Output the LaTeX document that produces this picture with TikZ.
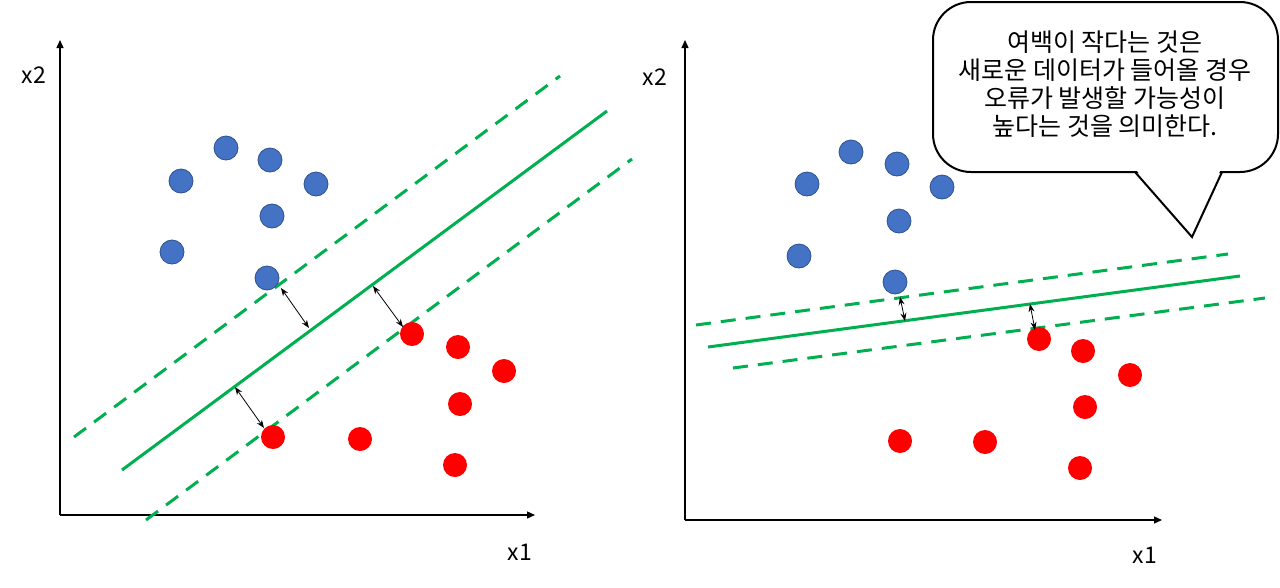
\documentclass[tikz,border=0pt]{standalone}
\usepackage{fontspec}
\setmainfont{Noto Sans CJK KR}
\usetikzlibrary{arrows.meta}
\definecolor{svmgreen}{HTML}{00B050}
\definecolor{bluefill}{HTML}{4472C4}
\definecolor{blueedge}{HTML}{2F528F}
\definecolor{redpt}{HTML}{FF0000}
\begin{document}
\begin{tikzpicture}[x=1pt,y=-1pt,
  axis/.style={line width=1.3pt,-{Triangle[length=8pt,width=7pt]}},
  axlabel/.style={font=\fontsize{23}{27}\selectfont},
  bpt/.style={circle,fill=bluefill,draw=blueedge,line width=0.8pt,minimum size=24pt,inner sep=0pt},
  rpt/.style={circle,fill=redpt,minimum size=24pt,inner sep=0pt},
  hyper/.style={svmgreen,line width=3pt},
  margin/.style={svmgreen,line width=3pt,dash pattern=on 15pt off 10pt},
  gap/.style={line width=0.8pt,{Stealth[length=8pt,width=6pt]}-{Stealth[length=8pt,width=6pt]}}
]
\useasboundingbox (0,0) rectangle (1280,587);
% ---- left axes
\coordinate (lo) at (60,515);
\coordinate (ly) at (60,40);
\coordinate (lx) at (535,515);
\draw[axis] (lo) -- (ly);
\draw[axis] (lo) -- (lx);
\node[axlabel] (lx2) at (34,75) {x2};
\node[axlabel] (lx1) at (520,552) {x1};
% lines
\coordinate (ls1) at (122,470); \coordinate (ls2) at (607,111);
\coordinate (lu1) at (74,437); \coordinate (lu2) at (560,76);
\coordinate (ld1) at (146,520); \coordinate (ld2) at (632,159);
\draw[hyper] (ls1) -- (ls2);
\draw[margin] (lu1) -- (lu2);
\draw[margin] (ld1) -- (ld2);
% points
\node[bpt] (lb1) at (226,148) {};
\node[bpt] (lb2) at (270,160) {};
\node[bpt] (lb3) at (181,181) {};
\node[bpt] (lb4) at (316,184) {};
\node[bpt] (lb5) at (272,216) {};
\node[bpt] (lb6) at (172,252) {};
\node[bpt] (lb7) at (267,278) {};
\node[rpt] (lr1) at (412,334) {};
\node[rpt] (lr2) at (458,347) {};
\node[rpt] (lr3) at (504,371) {};
\node[rpt] (lr4) at (460,404) {};
\node[rpt] (lr5) at (273,437) {};
\node[rpt] (lr6) at (360,439) {};
\node[rpt] (lr7) at (455,465) {};
% gap arrows
\coordinate (la1) at (281,288); \coordinate (la2) at (309,328);
\coordinate (la3) at (373,286); \coordinate (la4) at (403,327);
\coordinate (la5) at (235,387); \coordinate (la6) at (264,428);
\draw[gap] (la1) -- (la2);
\draw[gap] (la3) -- (la4);
\draw[gap] (la5) -- (la6);
% ---- right axes
\coordinate (ro) at (685,520);
\coordinate (ry) at (685,40);
\coordinate (rx) at (1162,520);
\draw[axis] (ro) -- (ry);
\draw[axis] (ro) -- (rx);
\node[axlabel] (rx2) at (655,77) {x2};
\node[axlabel] (rx1) at (1145,555) {x1};
\coordinate (rs1) at (708,347); \coordinate (rs2) at (1240,276);
\coordinate (ru1) at (696,325); \coordinate (ru2) at (1228,254);
\coordinate (rd1) at (733,368); \coordinate (rd2) at (1265,298);
\draw[hyper] (rs1) -- (rs2);
\draw[margin] (ru1) -- (ru2);
\draw[margin] (rd1) -- (rd2);
\node[bpt] (rb1) at (851,152) {};
\node[bpt] (rb2) at (897,164) {};
\node[bpt] (rb3) at (807,184) {};
\node[bpt] (rb4) at (942,187) {};
\node[bpt] (rb5) at (899,221) {};
\node[bpt] (rb6) at (799,256) {};
\node[bpt] (rb7) at (895,282) {};
\node[rpt] (rr1) at (1039,339) {};
\node[rpt] (rr2) at (1083,351) {};
\node[rpt] (rr3) at (1130,375) {};
\node[rpt] (rr4) at (1085,407) {};
\node[rpt] (rr5) at (900,441) {};
\node[rpt] (rr6) at (985,442) {};
\node[rpt] (rr7) at (1080,468) {};
\coordinate (ra1) at (900,297); \coordinate (ra2) at (905,321);
\coordinate (ra3) at (1030,304); \coordinate (ra4) at (1035,330);
\draw[gap] (ra1) -- (ra2);
\draw[gap] (ra3) -- (ra4);
% ---- callout
\coordinate (cb1) at (933,2); \coordinate (cb2) at (1278,172);
\coordinate (pl) at (1135,172); \coordinate (pt) at (1192,237); \coordinate (pr) at (1222,172);
\draw[line width=2pt,fill=white,rounded corners=38pt] (cb1) rectangle (cb2);
\fill[white] (1137,168) -- (1137,171) -- (pt) -- (1220,171) -- (1220,168) -- cycle;
\draw[line width=2pt,line join=miter] (pl) -- (pt) -- (pr);
\node[align=center,font=\fontsize{25}{27.8}\selectfont] (callout) at (1105,84)
  {여백이 작다는 것은\\새로운 데이터가 들어올 경우\\오류가 발생할 가능성이\\높다는 것을 의미한다.};
\end{tikzpicture}
\end{document}
